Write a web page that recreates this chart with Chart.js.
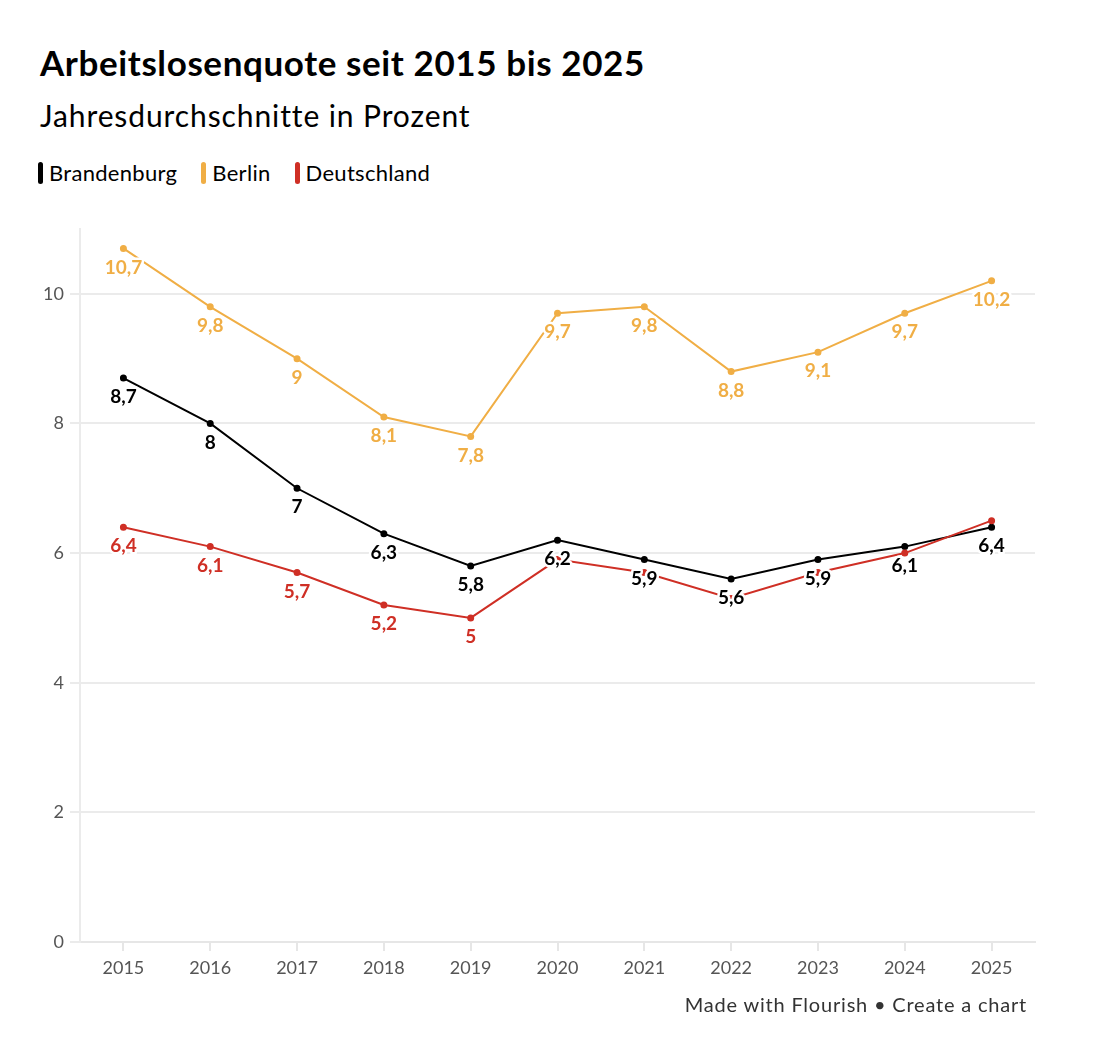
<!DOCTYPE html>
<html lang="de">
<head>
<meta charset="utf-8">
<title>Arbeitslosenquote seit 2015 bis 2025</title>
<script src="https://cdn.jsdelivr.net/npm/chart.js@4.4.1/dist/chart.umd.min.js"></script>
<style>
  html, body { margin: 0; padding: 0; background: #fff; }
  body { width: 1116px; height: 1042px; position: relative; font-family: Lato, "Noto Sans", sans-serif; color: #000; }
  h1 { position: absolute; left: 40px; top: 40px; margin: 0; font-size: 35px; line-height: 44px; font-weight: 700; letter-spacing: 0.6px; }
  .sub { position: absolute; left: 40px; top: 96px; font-size: 30px; line-height: 38px; font-weight: 400; letter-spacing: 0.9px; }
  .legend { position: absolute; left: 38px; top: 159px; font-size: 22px; display: flex; letter-spacing: 0.3px; }
  .legend span { display: flex; align-items: center; margin-right: 24px; }
  .legend i { display: inline-block; width: 5px; height: 22px; border-radius: 3px; margin-right: 6px; }
  #wrap { position: absolute; left: 0; top: 210px; width: 1116px; height: 790px; }
  .foot { position: absolute; right: 89px; top: 992px; font-size: 20px; color: #333; letter-spacing: 0.8px; }
</style>
</head>
<body>
<h1>Arbeitslosenquote seit 2015 bis 2025</h1>
<div class="sub">Jahresdurchschnitte in Prozent</div>
<div class="legend">
  <span><i style="background:#000"></i>Brandenburg</span>
  <span><i style="background:#f0ae45"></i>Berlin</span>
  <span><i style="background:#cf2f25"></i>Deutschland</span>
</div>
<div id="wrap"><canvas id="chart"></canvas></div>
<div class="foot">Made with Flourish • Create a chart</div>
<script>
const years = ['2015', '2016', '2017', '2018', '2019', '2020', '2021', '2022', '2023', '2024', '2025'];
const brandenburg = [8.7, 8, 7, 6.3, 5.8, 6.2, 5.9, 5.6, 5.9, 6.1, 6.4];
const berlin = [10.7, 9.8, 9, 8.1, 7.8, 9.7, 9.8, 8.8, 9.1, 9.7, 10.2];
const deutschland = [6.4, 6.1, 5.7, 5.2, 5, 5.9, 5.7, 5.3, 5.7, 6.0, 6.5];
const yTicks = [0, 2, 4, 6, 8, 10];

// value labels under each point, hidden when they collide with one already drawn
const pointLabels = {
  id: 'pointLabels',
  afterDatasetsDraw(chart) {
    const ctx = chart.ctx;
    const placed = [];
    ctx.save();
    ctx.font = 'bold 19px Lato, "Noto Sans", sans-serif';
    ctx.textAlign = 'center';
    ctx.textBaseline = 'middle';
    ctx.lineJoin = 'round';
    chart.data.datasets.forEach((ds, i) => {
      const meta = chart.getDatasetMeta(i);
      meta.data.forEach((pt, j) => {
        const txt = String(ds.data[j]).replace('.', ',');
        const x = pt.x, y = pt.y + 19;
        const w = ctx.measureText(txt).width;
        const box = { l: x - w / 2 - 3, r: x + w / 2 + 3, t: y - 12, b: y + 12 };
        const hit = placed.some(p => box.l < p.r && box.r > p.l && box.t < p.b && box.b > p.t);
        if (hit) return;
        placed.push(box);
        ctx.lineWidth = 5;
        ctx.strokeStyle = '#fff';
        ctx.strokeText(txt, x, y);
        ctx.fillStyle = ds.borderColor;
        ctx.fillText(txt, x, y);
      });
    });
    ctx.restore();
  }
};

const line = (label, data, color, order) => ({
  label, data, order,
  borderColor: color,
  backgroundColor: color,
  borderWidth: 2,
  pointRadius: 2.5,
  pointHoverRadius: 2.5,
  tension: 0
});

new Chart(document.getElementById('chart'), {
  type: 'line',
  data: {
    labels: years,
    datasets: [
      line('Brandenburg', brandenburg, '#000000', 1),
      line('Berlin', berlin, '#f0ae45', 2),
      line('Deutschland', deutschland, '#cf2f25', 0)
    ]
  },
  options: {
    responsive: true,
    maintainAspectRatio: false,
    animation: false,
    layout: { padding: { top: 19, right: 81, left: 0, bottom: 0 } },
    plugins: { legend: { display: false }, tooltip: { enabled: false } },
    scales: {
      x: {
        offset: true,
        grid: { offset: false, drawOnChartArea: false, drawTicks: true, tickLength: 9, color: '#e6e6e6', lineWidth: 2 },
        border: { color: '#e6e6e6', width: 2 },
        ticks: { color: '#555', font: { family: 'Lato, "Noto Sans", sans-serif', size: 18 }, padding: 6, maxRotation: 0 },
        afterFit(scale) { scale.height = 58; }
      },
      y: {
        min: 0,
        max: 11,
        afterBuildTicks(scale) { scale.ticks = yTicks.map(v => ({ value: v })); },
        grid: { color: '#ebebeb', lineWidth: 2, tickLength: 10 },
        border: { color: '#ebebeb', width: 2 },
        ticks: { color: '#555', font: { family: 'Lato, "Noto Sans", sans-serif', size: 18 }, padding: 6 },
        afterFit(scale) { scale.width = 80; }
      }
    }
  },
  plugins: [pointLabels]
});
</script>
</body>
</html>
